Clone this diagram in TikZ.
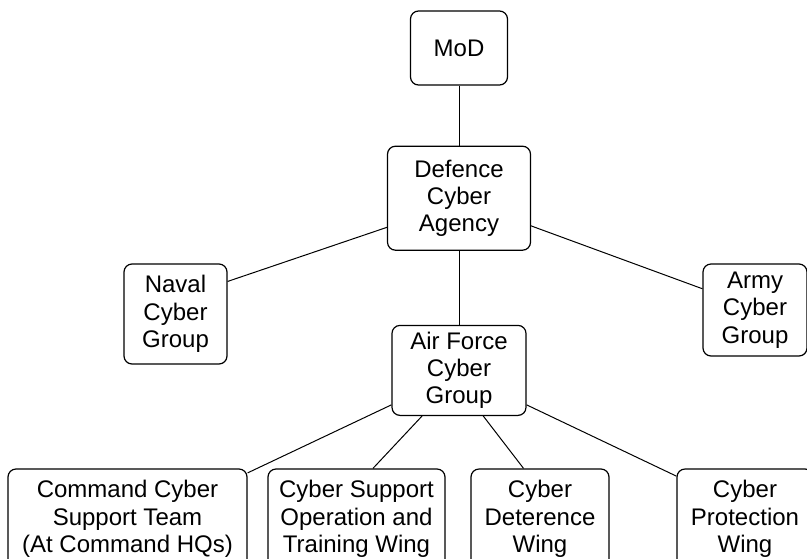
\documentclass[tikz,border=0pt]{standalone}
\usepackage{fontspec}
\setmainfont{Liberation Sans}
\usetikzlibrary{positioning}

\begin{document}
\begin{tikzpicture}[
    x=0.75pt, y=-0.75pt,
    node distance=45pt,
    unit/.style={draw, rounded corners=6pt, line width=0.9pt, align=center, inner sep=2pt, font=\fontsize{18}{20.5}\selectfont},
    wing/.style={unit, minimum height=75pt},
    link/.style={line width=0.75pt}
]
\fill[white] (0,0) rectangle (807,558);
\useasboundingbox (0,0) rectangle (807,558);

% top of the tree
\node[unit, minimum width=72.75pt, minimum height=55.5pt] (mod) at (459,48) {MoD};
\node[unit, minimum width=107.25pt, minimum height=78pt, below=of mod] (dca) {Defence\\Cyber\\Agency};
\node[unit, minimum width=100.5pt, minimum height=67.5pt, below=55.5pt of dca] (afcg) {Air Force\\Cyber\\Group};
\node[unit, minimum width=77.25pt, minimum height=75pt] (ncg) at (175.5,314) {Naval\\Cyber\\Group};
\node[unit, minimum width=78pt, minimum height=69pt] (acg) at (755,310) {Army\\Cyber\\Group};

% wings under the air force group
\node[wing, minimum width=179.25pt] (ccst) at (127.5,519) {Command Cyber\\Support Team\\(At Command HQs)};
\node[wing, minimum width=132.75pt] (csotw) at (356.5,519) {Cyber Support\\Operation and\\Training Wing};
\node[wing, minimum width=103.5pt] (cdw) at (540,519) {Cyber\\Deterence\\Wing};
\node[wing, minimum width=102pt] (cpw) at (745,519) {Cyber\\Protection\\Wing};

\draw[link] (mod) -- (dca);
\draw[link] (dca) -- (afcg);
\draw[link] (dca.202) -- (ncg.32);
\draw[link] (dca.339) -- (acg.158);
\draw[link] (afcg.207) -- (ccst.21);
\draw[link] (afcg.231) -- (csotw.72);
\draw[link] (afcg.298) -- (cdw.108);
\draw[link] (afcg.333) -- (cpw.148);
\end{tikzpicture}
\end{document}
